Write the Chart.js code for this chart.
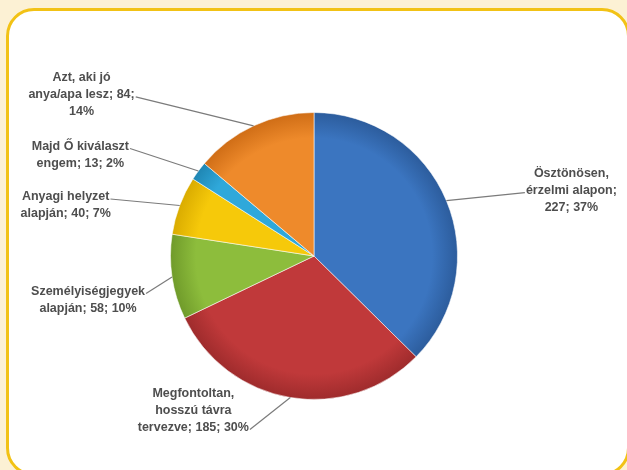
<!DOCTYPE html>
<html>
<head>
<meta charset="utf-8">
<script src="https://cdn.jsdelivr.net/npm/chart.js@4/dist/chart.umd.min.js"></script>
<style>
  html, body { margin: 0; padding: 0; }
  body { width: 627px; height: 470px; background: #fcf1d4; position: relative; overflow: hidden; }
  #frame {
    position: absolute; left: 6px; top: 8px; width: 618px; height: 462px;
    background: #ffffff; border: 3px solid #f2c215; border-radius: 28px;
  }
  #chart { position: absolute; left: 0; top: 0; }
</style>
</head>
<body>
<div id="frame"></div>
<canvas id="chart" width="627" height="470"></canvas>
<script>
// categories ('|' marks a line break in the label)
var categories = [
  'Ösztönösen,|érzelmi alapon',
  'Megfontoltan,|hosszú távra|tervezve',
  'Személyiségjegyek|alapján',
  'Anyagi helyzet|alapján',
  'Majd Ő kiválaszt|engem',
  'Azt, aki jó|anya/apa lesz'
];
var values = [227, 185, 58, 40, 13, 84];

// styles
var colors = ['#3b75c0', '#c0393a', '#8dbd3c', '#f6c90a', '#2fa8da', '#ee8a2b'];
var rimColors = ['#2c5c9c', '#9e2b2c', '#6f9a2a', '#d9ab00', '#1f86b3', '#cf6d16'];
// where to break before value / percent: 'value', 'pct' or ''
var breaks = ['value', '', '', '', '', 'pct'];
// label block centre, relative to the point on the slice edge
var labelOffsets = [[125, -10], [-97, 13], [-84, 23], [-114, 0], [-118, -16], [-172, -31]];
// leader line anchor: [row, side]
var anchors = [[1, 'l'], [2, 'r'], [0, 'r'], [0, 'r'], [0, 'r'], [1, 'r']];

var total = values.reduce(function (a, b) { return a + b; }, 0);

function labelLines(i) {
  var pct = Math.round(values[i] / total * 100) + '%';
  var s = categories[i] + ';' + (breaks[i] === 'value' ? '|' : ' ') + values[i] + ';' +
          (breaks[i] === 'pct' ? '|' : ' ') + pct;
  return s.split('|');
}

var leaders = {
  id: 'leaders',
  afterDatasetsDraw: function (chart) {
    var ctx = chart.ctx;
    var meta = chart.getDatasetMeta(0);
    ctx.save();
    ctx.font = 'bold 12.5px "Liberation Sans", Arial, sans-serif';
    ctx.textAlign = 'center';
    ctx.textBaseline = 'middle';
    meta.data.forEach(function (arc, i) {
      var p = arc.getProps(['x', 'y', 'startAngle', 'endAngle', 'outerRadius'], true);
      var mid = (p.startAngle + p.endAngle) / 2;
      var ex = p.x + Math.cos(mid) * p.outerRadius;
      var ey = p.y + Math.sin(mid) * p.outerRadius;
      var lines = labelLines(i);
      var lh = 17;
      var cx = ex + labelOffsets[i][0];
      var cy = ey + labelOffsets[i][1];
      var top = cy - (lines.length - 1) * lh / 2;

      var row = anchors[i][0];
      var w = ctx.measureText(lines[row]).width;
      var ax = anchors[i][1] === 'r' ? cx + w / 2 + 1 : cx - w / 2 - 1;
      var ay = top + row * lh + 2;
      ctx.strokeStyle = '#7b7b7b';
      ctx.lineWidth = 1.2;
      ctx.beginPath();
      ctx.moveTo(ax, ay);
      ctx.lineTo(ex, ey);
      ctx.stroke();

      ctx.fillStyle = '#4e4e4e';
      lines.forEach(function (t, k) {
        ctx.fillText(t, cx, top + k * lh);
      });
    });
    ctx.restore();
  }
};

var ctx = document.getElementById('chart').getContext('2d');
var pie = new Chart(ctx, {
  type: 'pie',
  data: {
    labels: categories.map(function (c) { return c.replace(/\|/g, ' '); }),
    datasets: [{
      data: values,
      backgroundColor: function (c) {
        var a = c.chart.chartArea;
        var i = c.dataIndex;
        if (!a) return colors[i];
        var x = (a.left + a.right) / 2, y = (a.top + a.bottom) / 2;
        var r = Math.min(a.width, a.height) / 2;
        var g = c.chart.ctx.createRadialGradient(x, y, 0, x, y, r);
        g.addColorStop(0, colors[i]);
        g.addColorStop(0.82, colors[i]);
        g.addColorStop(1, rimColors[i]);
        return g;
      },
      borderColor: 'rgba(255,255,255,0.55)',
      borderWidth: 1
    }]
  },
  options: {
    responsive: false,
    animation: false,
    layout: { padding: { left: 170, right: 169, top: 112, bottom: 70 } },
    plugins: {
      legend: { display: false },
      tooltip: { enabled: false }
    }
  },
  plugins: [leaders]
});
</script>
</body>
</html>
